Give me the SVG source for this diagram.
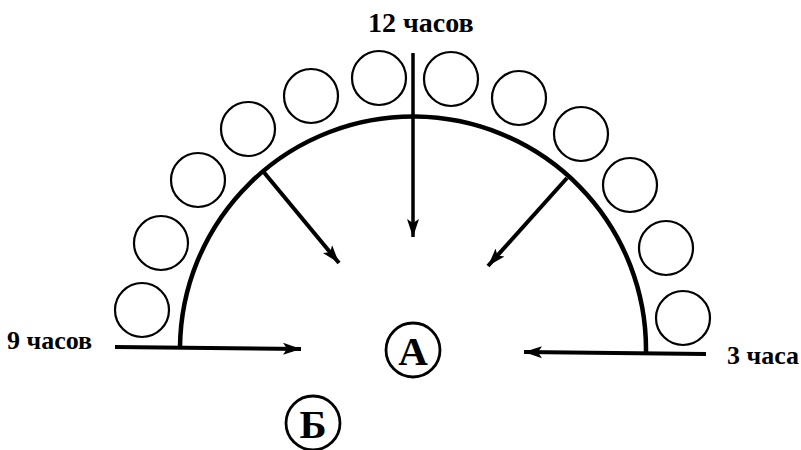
<svg xmlns="http://www.w3.org/2000/svg" width="801" height="450" viewBox="0 0 801 450">
<style>
.lbl{font-family:"Liberation Serif","Times New Roman",serif;font-weight:bold;fill:#000}
.ball{fill:none;stroke:#000;stroke-width:2.2}
.ln{stroke:#000;fill:none;stroke-linecap:butt}
</style>
<defs>
<marker id="ah" markerUnits="userSpaceOnUse" markerWidth="20" markerHeight="14" refX="18" refY="6" orient="auto" viewBox="0 0 20 12">
<path d="M0,0 L18,6 L0,12 L4,6 Z" fill="#000"/>
</marker>
</defs>
<rect width="801" height="450" fill="#fff"/>
<g id="dome">
<path class="ln" d="M180,347 A233,233 0 0 1 646,352" stroke-width="4.5"/>
</g>
<g id="balls">
<circle class="ball" cx="379" cy="78" r="27"/>
<circle class="ball" cx="311" cy="96" r="27"/>
<circle class="ball" cx="248" cy="129" r="27"/>
<circle class="ball" cx="198" cy="180" r="27"/>
<circle class="ball" cx="161" cy="243" r="27"/>
<circle class="ball" cx="142" cy="310" r="27"/>
<circle class="ball" cx="451" cy="79" r="27"/>
<circle class="ball" cx="519" cy="98" r="27"/>
<circle class="ball" cx="581" cy="134" r="27"/>
<circle class="ball" cx="630" cy="185" r="27"/>
<circle class="ball" cx="666" cy="248" r="27"/>
<circle class="ball" cx="683" cy="318" r="27"/>
</g>
<g id="connectors">
<line class="ln" x1="413" y1="53" x2="413" y2="237" stroke-width="3.5" marker-end="url(#ah)"/>
<line class="ln" x1="262" y1="170" x2="339" y2="263" stroke-width="4" marker-end="url(#ah)"/>
<line class="ln" x1="567" y1="178" x2="488" y2="266" stroke-width="4" marker-end="url(#ah)"/>
<line class="ln" x1="115" y1="347" x2="301" y2="349" stroke-width="4" marker-end="url(#ah)"/>
<line class="ln" x1="706" y1="354" x2="524" y2="352" stroke-width="4" marker-end="url(#ah)"/>
</g>
<g id="label-12">
<text class="lbl" x="368" y="32" font-size="28">12 часов</text>
</g>
<g id="label-9">
<text class="lbl" x="7" y="349" font-size="26">9 часов</text>
</g>
<g id="label-3">
<text class="lbl" x="727" y="364" font-size="26">3 часа</text>
</g>
<g id="node-A">
<circle cx="413" cy="350" r="27" fill="none" stroke="#000" stroke-width="2.8"/>
<text class="lbl" x="413" y="365" font-size="41" text-anchor="middle">A</text>
</g>
<g id="node-B">
<circle cx="313" cy="423" r="27" fill="none" stroke="#000" stroke-width="2.8"/>
<text class="lbl" x="313" y="438" font-size="41" text-anchor="middle">Б</text>
</g>
</svg>
